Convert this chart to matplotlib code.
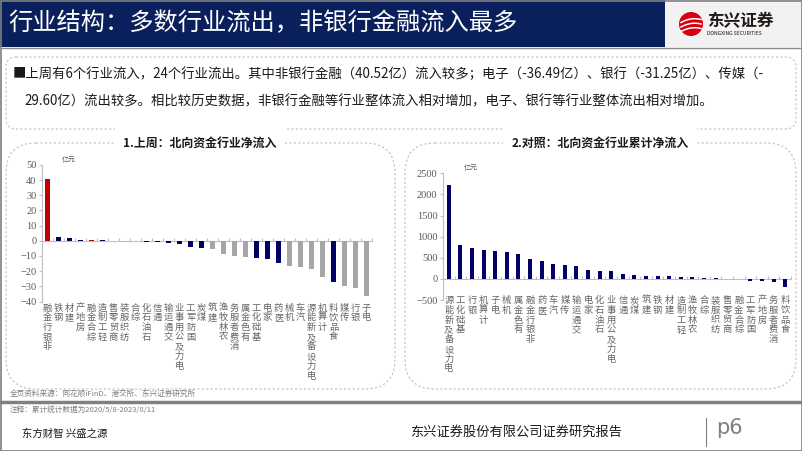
import numpy as np
import matplotlib
matplotlib.use('Agg')
import matplotlib.pyplot as plt
from matplotlib.patches import FancyBboxPatch, Rectangle, Circle

plt.rcParams['font.family'] = ['Noto Sans CJK SC', 'DejaVu Sans']

# 上周北向资金行业净流入（亿元）
week_inds = ['非银行金融', '钢铁', '建材', '房地产', '综合金融', '轻工制造', '商贸零售', '纺织服装',
             '综合', '石油石化', '通信', '交通运输', '电力及公用事业', '国防军工', '煤炭', '建筑',
             '农林牧渔', '消费者服务', '有色金属', '基础化工', '家电', '医药', '机械', '汽车',
             '电力设备及新能源', '计算机', '食品饮料', '传媒', '银行', '电子']
week_vals = [40.52, 2.2, 1.8, 0.7, 0.6, 0.3, -0.1, -0.15, -0.2, -0.6, -1.0, -1.4, -2.2, -4.0,
             -4.8, -5.5, -8.8, -10.3, -10.7, -11.4, -12.0, -14.3, -16.9, -17.0, -18.6, -23.7,
             -27.4, -29.60, -31.25, -36.49]
week_kind = ['r', 'b', 'b', 'b', 'r', 'b', 'b', 'b', 'b', 'b', 'b', 'b', 'b', 'b', 'b',
             'g', 'g', 'g', 'g', 'b', 'b', 'b', 'g', 'g', 'g', 'g', 'b', 'g', 'g', 'g']

# 累计净流入（亿元）
cum_inds = ['电力设备及新能源', '基础化工', '银行', '计算机', '电子', '机械', '有色金属', '非银行金融',
            '医药', '汽车', '传媒', '交通运输', '家电', '石油石化', '电力及公用事业', '通信', '煤炭',
            '建筑', '钢铁', '建材', '轻工制造', '农林牧渔', '综合', '纺织服装', '商贸零售', '综合金融',
            '国防军工', '房地产', '消费者服务', '食品饮料']
cum_vals = [2219, 793, 736, 673, 670, 640, 600, 471, 416, 344, 328, 298, 220, 192, 178, 120,
            89, 72, 65, 62, 48, 40, 24, 16, 4, -5, -40, -56, -64, -200]

palette = {'r': '#c00000', 'b': '#000066', 'g': '#a6a6a6'}
tick_color = '#595959'
line_gray = '#bfbfbf'

fig = plt.figure(figsize=(8.02, 4.51), dpi=100)

# background layer in pixel coordinates
bg = fig.add_axes([0, 0, 1, 1])
bg.set_xlim(0, 802)
bg.set_ylim(451, 0)
bg.set_axis_off()

bg.add_patch(Rectangle((0, 0), 665, 47, color='#0a205c', lw=0))
bg.add_patch(Rectangle((665, 0), 137, 47, color='#f2f2f2', lw=0))
bg.plot([0, 802], [47.5, 47.5], color='#8c8c8c', lw=1)
bg.text(8, 23, '行业结构：多数行业流出，非银行金融流入最多', color='white', fontsize=17.5,
        va='center', ha='left')

# logo
bg.add_patch(Circle((691, 24), 12, color='#d7000f', lw=0))
xs = np.linspace(681, 701, 30)
for k in range(3):
    bg.plot(xs, 19 + k * 4.5 + 0.02 * (xs - 691) ** 2 - 0.15 * (xs - 691), color='white', lw=1.1)
bg.text(707, 21, '东兴证券', color='#231815', fontsize=12, fontweight='bold', va='center')
bg.text(707, 33.5, 'DONGXING SECURITIES', color='#231815', fontsize=3.6, va='center')

# text box
dash = (0, (2, 2))
bg.add_patch(FancyBboxPatch((6, 57), 790, 72, boxstyle='round,pad=0,rounding_size=10',
                            fc='none', ec=line_gray, lw=0.8, ls=dash))
bg.text(13, 74, '■上周有6个行业流入，24个行业流出。其中非银行金融（40.52亿）流入较多；电子（-36.49亿）、'
        '银行（-31.25亿）、传媒（-', fontsize=9.6, va='center', ha='left', color='#1a1a1a')
bg.text(24, 101, '29.60亿）流出较多。相比较历史数据，非银行金融等行业整体流入相对增加，电子、银行等行业整体流出相对增加。',
        fontsize=9.6, va='center', ha='left', color='#1a1a1a')

# chart boxes
for x0, w, title, cx in [(6, 389, '1.上周：北向资金行业净流入', 200),
                         (405, 391, '2.对照：北向资金行业累计净流入', 600)]:
    bg.add_patch(FancyBboxPatch((x0, 143), w, 246, boxstyle='round,pad=0,rounding_size=30',
                                fc='none', ec=line_gray, lw=0.8, ls=dash))
    bg.text(cx, 143, title, fontsize=8.6, fontweight='bold', ha='center', va='center',
            color='#1a1a1a', bbox=dict(fc='white', ec='none', pad=6))

# footer
bg.text(10, 395, '全页资料来源：同花顺iFinD、港交所、东兴证券研究所', fontsize=5.5,
        color='#7f7f7f', va='center')
bg.plot([0, 802], [402, 402], color='#808080', lw=2.5)
bg.text(10, 411, '注释：累计统计数据为2020/5/8-2023/8/11', fontsize=5.5, color='#7f7f7f', va='center')
bg.text(22, 434, '东方财智 兴盛之源', fontsize=7.5, color='#1a1a1a', va='center')
bg.text(410, 432, '东兴证券股份有限公司证券研究报告', fontsize=9.5, color='#1a1a1a', va='center')
bg.plot([706, 706], [418, 446], color='#7f7f7f', lw=0.8)
bg.text(716, 428, 'p6', fontsize=15, color='#7f7f7f', va='center', family='DejaVu Sans')
bg.add_patch(Rectangle((0.5, 0.5), 801, 450, fc='none', ec='#7f7f7f', lw=1.2))


def draw_bars(ax, inds, vals, colors, ylim, step, width, label_y):
    x = np.arange(len(inds))
    ax.bar(x, vals, width=width, color=colors, zorder=3)
    ax.set_xlim(-0.5, len(inds) - 0.5)
    ax.set_ylim(*ylim)
    ax.set_yticks(np.arange(ylim[0], ylim[1] + 1, step))
    ax.patch.set_alpha(0)
    for s in ['top', 'right']:
        ax.spines[s].set_visible(False)
    ax.spines['left'].set_color(line_gray)
    ax.spines['bottom'].set_color(line_gray)
    ax.spines['bottom'].set_position(('data', 0))
    ax.set_xticks(np.arange(len(inds) + 1) - 0.5)
    ax.set_xticklabels([])
    ax.tick_params(axis='x', direction='in', length=2.5, color=line_gray)
    ax.tick_params(axis='y', direction='out', length=2, color=line_gray, labelcolor=tick_color,
                   labelsize=7.5, pad=2)
    for lab in ax.get_yticklabels():
        lab.set_family('Liberation Serif')
    # upright characters stacked, read from bottom to top
    for i, name in enumerate(inds):
        ax.text(i, label_y, '\n'.join(name[::-1]), ha='center', va='top', fontsize=6.7,
                linespacing=1.1, color='#666666', transform=ax.get_xaxis_transform())
    ax.text(0.06, 1.01, '亿元', fontsize=5, color=tick_color, transform=ax.transAxes, va='bottom')


ax1 = fig.add_axes([42 / 802, 1 - 301.5 / 451, 330 / 802, 136.5 / 451])
draw_bars(ax1, week_inds, week_vals, [palette[k] for k in week_kind], (-40, 50), 10, 0.38, -0.015)

ax2 = fig.add_axes([443 / 802, 1 - 300 / 451, 348 / 802, 126.7 / 451])
draw_bars(ax2, cum_inds, cum_vals, palette['b'], (-500, 2500), 500, 0.35, 0.03)

fig.savefig('out.png', dpi=100)
